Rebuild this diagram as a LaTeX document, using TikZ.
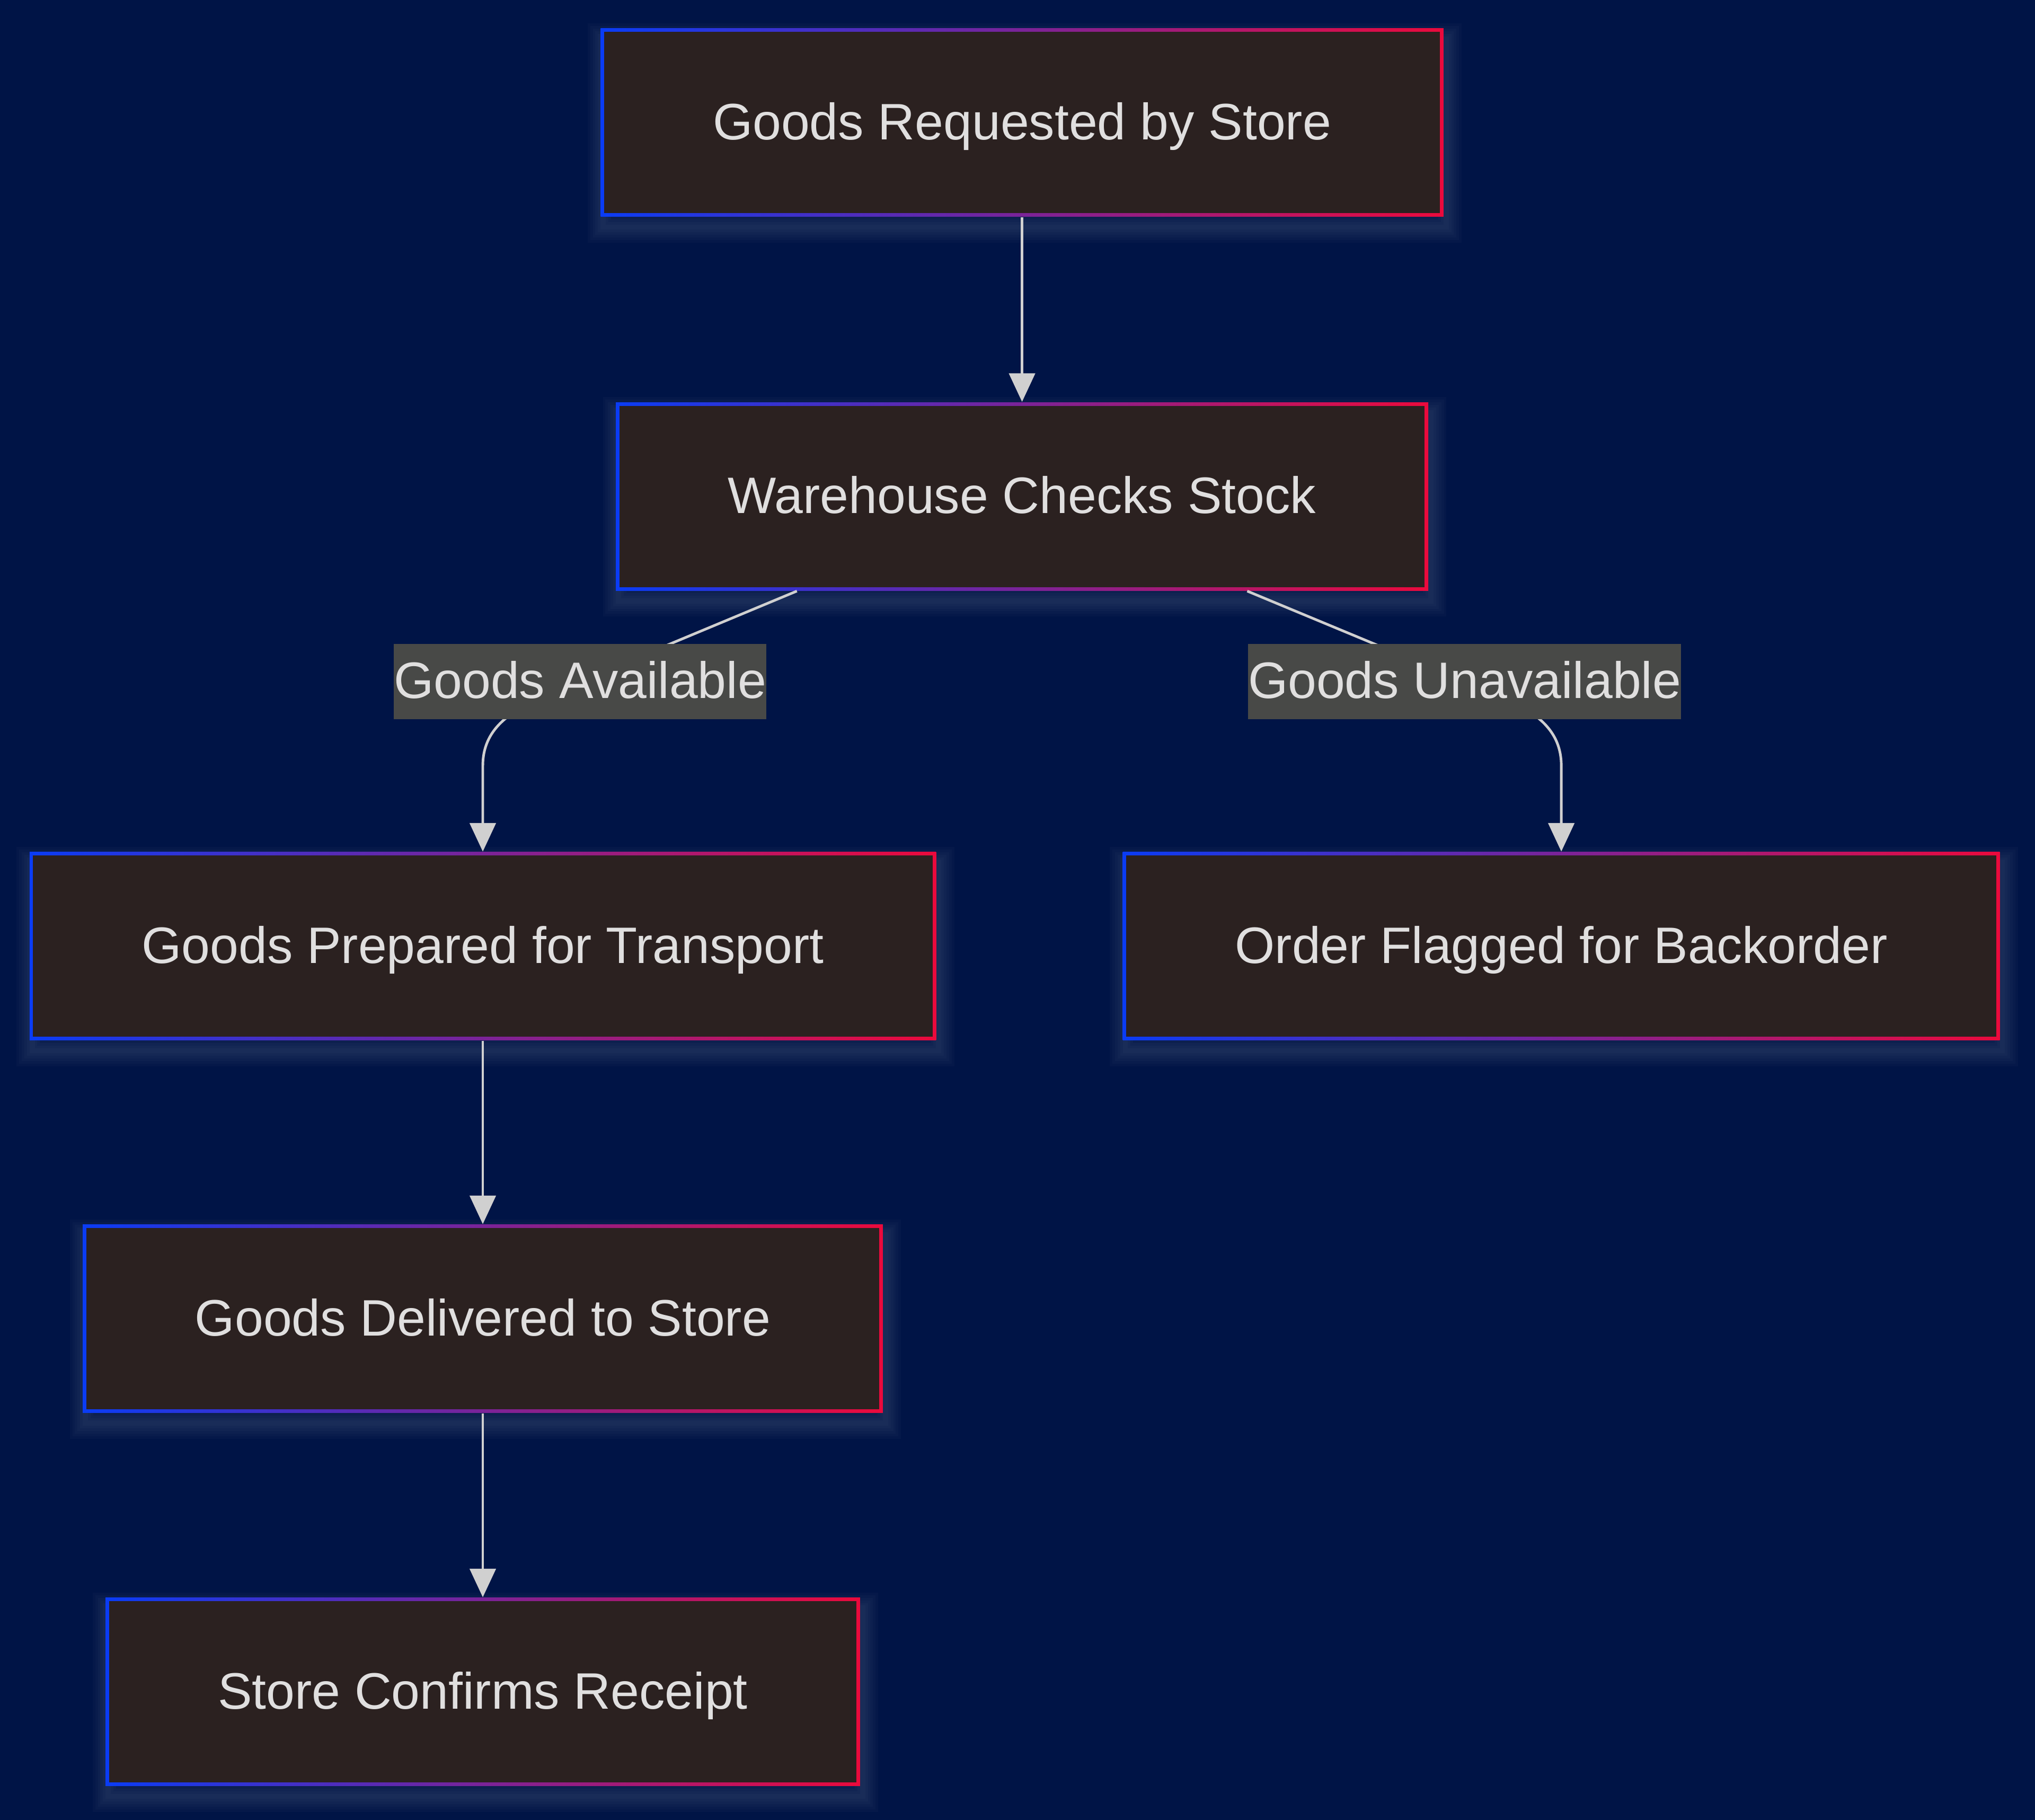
\documentclass[tikz,border=0pt]{standalone}
\usepackage{fontspec}
\setmainfont{Liberation Sans}
\usetikzlibrary{positioning,arrows.meta}

\definecolor{bgnavy}{HTML}{001446}
\definecolor{boxfill}{HTML}{2B2120}
\definecolor{bordblue}{HTML}{0A3CF5}
\definecolor{bordred}{HTML}{EB0A3C}
\definecolor{txtgrey}{HTML}{E0DFDF}
\definecolor{edgegrey}{HTML}{D0D0D0}
\definecolor{lblgrey}{HTML}{484947}

\newcommand{\boxfont}{\fontsize{19.75pt}{23.7pt}\selectfont}

\tikzset{
  glowring/.style={preaction={draw=white, draw opacity=0.02, line width=#1,
    transform canvas={xshift=1pt, yshift=-4pt}}},
  task/.style={fill=boxfill, text=txtgrey, font=\boxfont,
    text height=17pt, text depth=4pt,
    inner xsep=43.25pt, inner ysep=0pt, minimum height=72.5pt,
    glowring=12pt, glowring=10pt, glowring=8pt, glowring=6pt, glowring=4pt, glowring=2pt,
    path picture={
      \shade[left color=bordblue, right color=bordred]
        (path picture bounding box.south west) rectangle (path picture bounding box.north east);
      \fill[boxfill]
        ([shift={(1.35pt,1.35pt)}]path picture bounding box.south west) rectangle
        ([shift={(-1.35pt,-1.35pt)}]path picture bounding box.north east);
    }},
  cond/.style={fill=lblgrey, text=txtgrey, font=\boxfont,
    text height=17pt, text depth=4pt, inner sep=0pt, minimum height=29pt},
  flow/.style={draw=edgegrey, line width=1pt, -{Triangle[length=11pt,width=10pt]}}
}

\begin{document}
\begin{tikzpicture}[x=0.5pt,y=-0.5pt]
		\fill [bgnavy] (0,0) rectangle (1568,1402);
		\useasboundingbox (0,0) rectangle (1568,1402);
		% steps
		\node [task] (req) at (787.5,94.5) {Goods Requested by Store};
		\node [task] (chk) at (787.5,382.5) {Warehouse Checks Stock};
		\node [task] (prep) at (372,729) {Goods Prepared for Transport};
		\node [task] (back) at (1203,729) {Order Flagged for Backorder};
		\node [task] (dlv) at (372,1016) {Goods Delivered to Store};
		\node [task] (conf) at (372,1303.5) {Store Confirms Receipt};
		% where the branches bend
		\coordinate (avl) at (447,525);
		\coordinate (unavl) at (1128.5,525);
		\coordinate (prepbend) at (372,590);
		\coordinate (backbend) at (1203,590);
		% connectors
		\draw [flow] (req) -- (chk);
		\draw [flow] ([xshift=-86.75pt]chk.south) -- (avl) to[out=203,in=90] (prepbend) -- (prep.north);
		\draw [flow] ([xshift=86.75pt]chk.south) -- (unavl) to[out=-23,in=90] (backbend) -- (back.north);
		\draw [flow] (prep) -- (dlv);
		\draw [flow] (dlv) -- (conf);
		% branch labels
		\node [cond] (avllbl) at (avl) {Goods Available};
		\node [cond] (unavllbl) at (unavl) {Goods Unavailable};
\end{tikzpicture}
\end{document}
